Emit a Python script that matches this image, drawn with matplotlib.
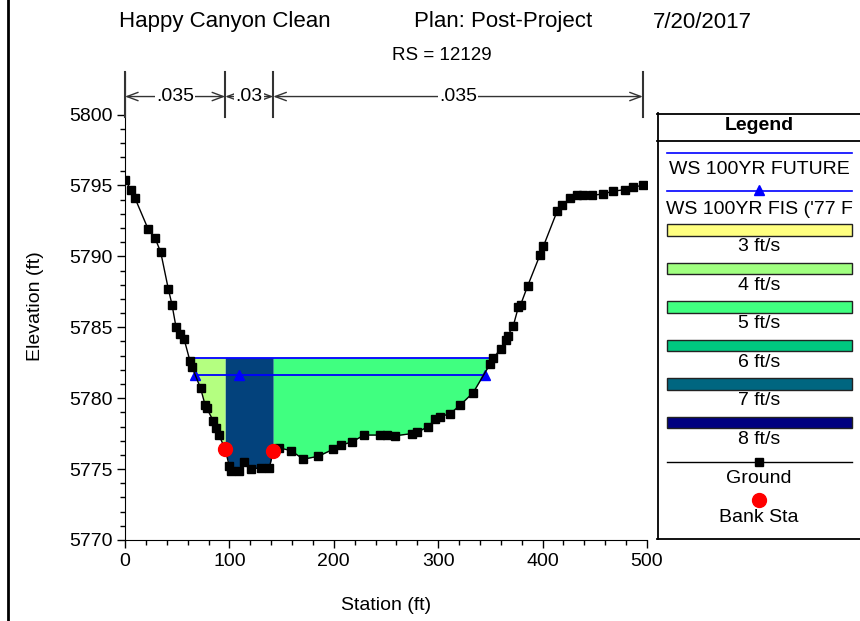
import matplotlib
matplotlib.use('Agg')
import matplotlib.pyplot as plt
import numpy as np
from matplotlib.lines import Line2D
from matplotlib.patches import Rectangle

plt.rcParams['font.family'] = ['Liberation Sans', 'DejaVu Sans']

# ---------------- data ----------------
ground_sta = [0, 5.7, 9.6, 22.3, 28.7, 34.2, 41.5, 45, 48.9, 52.7, 56.5, 62.3, 64.2,
              72.4, 76.8, 78.2, 84.6, 87.5, 90, 96, 99.9, 102, 108.9, 114.3, 120.4,
              130, 138.3, 142, 147.5, 159, 170.8, 185, 199.5, 206.9, 217, 229, 244,
              250.7, 258.6, 274.6, 280, 290.5, 297, 301.7, 311.3, 320.9, 333.6, 349.6,
              352.8, 359.8, 364.9, 366.5, 371.9, 376.7, 379, 385.6, 397.5, 400.7, 414,
              418.9, 426.2, 432.6, 439, 447, 458, 467.6, 479, 487, 496]
ground_elev = [5795.4, 5794.7, 5794.1, 5791.9, 5791.3, 5790.3, 5787.7, 5786.6, 5785.0,
               5784.5, 5784.2, 5782.6, 5782.2, 5780.7, 5779.5, 5779.3, 5778.4, 5777.9,
               5777.4, 5776.4, 5775.2, 5774.9, 5774.9, 5775.5, 5775.0, 5775.1, 5775.1,
               5776.3, 5776.5, 5776.3, 5775.7, 5775.9, 5776.4, 5776.7, 5776.9, 5777.4,
               5777.4, 5777.4, 5777.35, 5777.5, 5777.6, 5778.0, 5778.5, 5778.7, 5778.9,
               5779.5, 5780.4, 5782.4, 5782.8, 5783.5, 5784.1, 5784.4, 5785.1, 5786.4,
               5786.6, 5787.9, 5790.1, 5790.7, 5793.2, 5793.6, 5794.1, 5794.3, 5794.3,
               5794.3, 5794.4, 5794.6, 5794.7, 5794.9, 5795.0]
bank_sta = [96, 142]
bank_elev = [5776.4, 5776.3]

ws_future_sta = [61.6, 353.3]
ws_future_elev = 5782.85
ws_fis_sta = [67.3, 109, 344.8]
ws_fis_elev = 5781.65

n_sta = [0, 96, 142, 496]
n_vals = ['.035', '.03', '.035']

vel_labels = ['3 ft/s', '4 ft/s', '5 ft/s', '6 ft/s', '7 ft/s', '8 ft/s']
vel_colors = ['#ffff80', '#a0ff80', '#40ff80', '#00c880', '#006680', '#000080']
# velocity colours of the three flow regions (LOB, channel, ROB)
region_colors = ['#b4ff80', '#03427c', '#40ff80']

title_parts = ['Happy Canyon Clean', 'Plan: Post-Project', '7/20/2017']
subtitle = 'RS = 12129'

# ---------------- figure ----------------
W, H = 860, 621
fig = plt.figure(figsize=(W / 100, H / 100), dpi=100)
ax = fig.add_axes([125 / W, (H - 540) / H, (647 - 125) / W, (540 - 72) / H])
ax.set_xlim(0, 500)
ax.set_ylim(5770, 5803)

sta = np.array(ground_sta)
elev = np.array(ground_elev)
ws = np.full_like(sta, ws_future_elev)

# left overbank
m = (sta >= 56.5) & (sta <= bank_sta[0])
ax.fill_between(sta[m], elev[m], ws[m], where=elev[m] <= ws[m], interpolate=True,
                color=region_colors[0], lw=0, zorder=1)
# channel
m = (sta >= bank_sta[0]) & (sta <= bank_sta[1])
ax.fill_between(sta[m], elev[m], ws[m], color=region_colors[1], lw=0, zorder=1)
# right overbank
m = (sta >= bank_sta[1]) & (sta <= 360)
ax.fill_between(sta[m], elev[m], ws[m], where=elev[m] <= ws[m], interpolate=True,
                color=region_colors[2], lw=0, zorder=1)

ax.plot(ws_future_sta, [ws_future_elev] * 2, color='#0000ff', lw=1.3, zorder=3)
ax.plot(ws_fis_sta, [ws_fis_elev] * 3, color='#0000ff', lw=1.3, marker='^',
        ms=7, mec='#0000ff', mfc='#0000ff', zorder=3)
ax.plot(sta, elev, color='black', lw=1, marker='s', ms=6, zorder=4)
ax.plot(bank_sta, bank_elev, 'o', color='#ff0000', ms=10, zorder=5)

for s in ['top', 'right']:
    ax.spines[s].set_visible(False)
ax.set_xticks(range(0, 501, 100))
ax.set_xticks(range(0, 501, 20), minor=True)
ax.set_yticks(range(5770, 5801, 5))
ax.set_yticks(range(5770, 5801, 1), minor=True)
ax.tick_params(which='major', length=6, width=1, labelsize=14, pad=3)
ax.tick_params(which='minor', length=3.5, width=1)
ax.set_xlabel('Station (ft)', fontsize=14, labelpad=20)
ax.set_ylabel('Elevation (ft)', fontsize=14, labelpad=18)

# Manning's n annotation
for s in n_sta:
    ax.plot([s, s], [5803, 5799.8], color='#333333', lw=1.5, clip_on=False, zorder=6)
y_arr = 5801.27
for i, v in enumerate(n_vals):
    ax.annotate('', xy=(n_sta[i + 1], y_arr), xytext=(n_sta[i], y_arr),
                arrowprops=dict(arrowstyle='<->,head_length=0.8,head_width=0.3',
                                color='#333333', lw=1, shrinkA=0, shrinkB=0,
                                mutation_scale=10),
                annotation_clip=False)
    ax.text((n_sta[i] + n_sta[i + 1]) / 2, y_arr, v, ha='center', va='center',
            fontsize=14, bbox=dict(fc='white', ec='none', pad=1), zorder=7, clip_on=False)

# titles
def ftext(x, y, s, **kw):
    fig.text(x / W, 1 - y / H, s, ha='center', va='center', **kw)

ftext(225, 22, title_parts[0], fontsize=16)
ftext(503, 22, title_parts[1], fontsize=16)
ftext(702, 22, title_parts[2], fontsize=16)
ftext(442, 55, subtitle, fontsize=13.5)

# left frame border
fig.add_artist(Line2D([7.5 / W, 7.5 / W], [0, 1], color='black', lw=2,
                      transform=fig.transFigure))

# ---------------- legend ----------------
lx0, ly0, ly1 = 657, 113, 539
lax = fig.add_axes([lx0 / W, (H - ly1) / H, (W - lx0) / W, (ly1 - ly0) / H])
lax.set_xlim(lx0, W)
lax.set_ylim(ly1, ly0)
lax.axis('off')
kw = dict(color='black', lw=1.3, clip_on=False)
lax.plot([lx0 + 0.5, lx0 + 0.5], [ly0, ly1], **kw)
lax.plot([lx0, W], [ly0 + 0.5, ly0 + 0.5], **kw)
lax.plot([lx0, W], [ly1 - 0.5, ly1 - 0.5], **kw)
lax.plot([lx0, W], [141, 141], **kw)
cx = 759
lax.text(cx, 126, 'Legend', ha='center', va='center', fontsize=14, fontweight='bold')
lax.plot([667, 852], [152.7, 152.7], color='#0000ff', lw=1.2)
lax.text(cx, 170, 'WS 100YR FUTURE', ha='center', va='center', fontsize=14)
lax.plot([667, 852], [191, 191], color='#0000ff', lw=1.2)
lax.plot([cx], [190], marker='^', color='#0000ff', ms=7)
lax.text(cx, 209, "WS 100YR FIS ('77 F", ha='center', va='center', fontsize=14)
for i, (lab, col) in enumerate(zip(vel_labels, vel_colors)):
    top = 224.3 + i * 38.5
    lax.add_patch(Rectangle((667, top), 185, 11.5, fc=col, ec='#222222', lw=1))
    lax.text(cx, top + 22.5, lab, ha='center', va='center', fontsize=14)
lax.plot([667, 852], [461.7, 461.7], color='black', lw=1)
lax.plot([cx], [461.7], marker='s', color='black', ms=6)
lax.text(cx, 478.5, 'Ground', ha='center', va='center', fontsize=14)
lax.plot([cx], [500], 'o', color='#ff0000', ms=10)
lax.text(cx, 517, 'Bank Sta', ha='center', va='center', fontsize=14)

fig.savefig('out.png', dpi=100)
